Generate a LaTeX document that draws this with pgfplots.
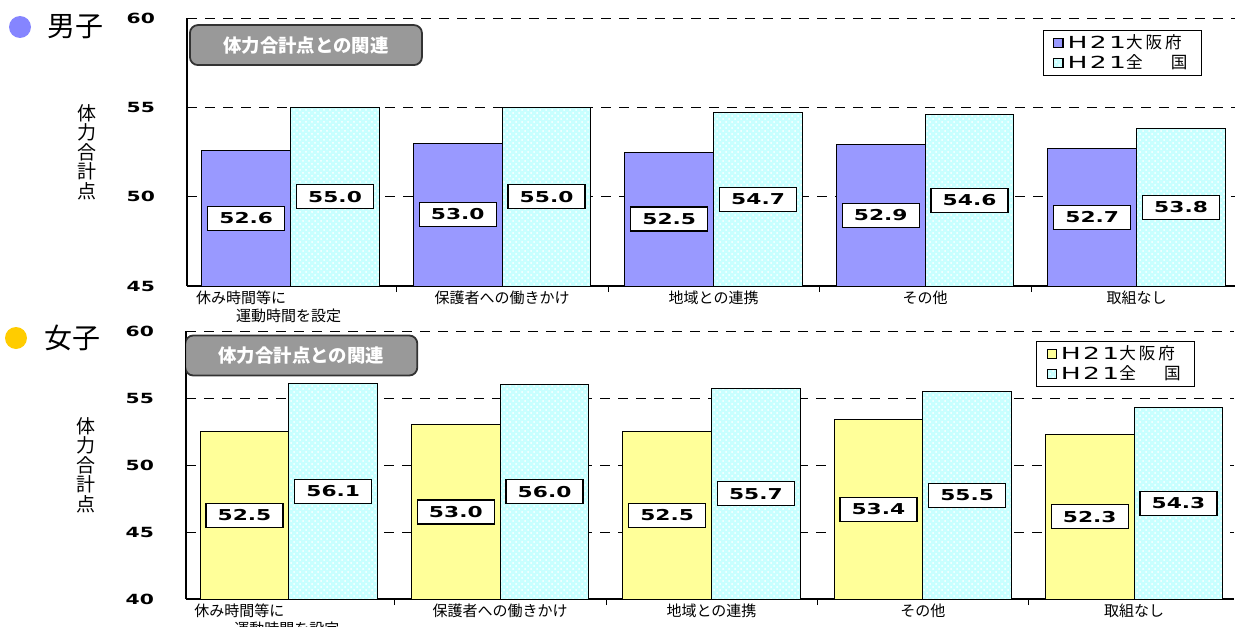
\documentclass[border=0pt]{standalone}
\usepackage{pgfplots}
\pgfplotsset{compat=1.18}
\usepackage{fontspec}
\setmainfont{Noto Sans CJK JP}
\newfontfamily\numfont[FakeStretch=1.45]{DejaVu Sans}
\newfontfamily\legfont[LetterSpace=18]{Noto Sans CJK JP}
\newfontfamily\legnum[FakeStretch=1.6,LetterSpace=14]{DejaVu Sans}
\usetikzlibrary{patterns}

\definecolor{osakaM}{HTML}{9999FF}
\definecolor{osakaF}{HTML}{FFFF99}
\definecolor{zenkoku}{HTML}{C8FFFF}
\definecolor{dotM}{HTML}{8585FF}
\definecolor{dotF}{HTML}{FFCC00}
\definecolor{boxgray}{HTML}{999999}

\tikzset{titlebox/.style={draw=black!80, line width=0.9pt, fill=boxgray, rounded corners=4pt,
  minimum width=116pt, minimum height=20pt, text=white, font=\bfseries\fontsize{9.2}{11}\selectfont}}

% #1 = ymin, #2 = half of pt per unit
\pgfplotsset{
  panel/.style 2 args={
    scale only axis, width=524pt, height=134pt,
    xmin=-0.49, xmax=4.465, ymin=#1, ymax=60,
    axis x line*=bottom, axis y line*=left,
    axis line style={-, line width=0.7pt},
    xtick={0,...,4},
    xticklabels={{\begin{tabular}{@{}l@{}}休み時間等に\\\hspace*{20pt}運動時間を設定\end{tabular}\hspace*{22pt}},
      保護者への働きかけ, 地域との連携, その他, 取組なし},
    xticklabel style={font=\fontsize{7.5}{8.5}\selectfont, yshift=1pt},
    minor xtick={0.5,1.5,2.5,3.5}, minor tick length=3pt, major tick length=0pt,
    tick align=inside, tick style={black},
    ymajorgrids, major grid style={dash pattern=on 5pt off 4pt, line width=0.5pt, black},
    /pgf/number format/assume math mode=true,
    yticklabel style={font=\numfont\bfseries\fontsize{7}{8}\selectfont, xshift=-12.5pt},
    ylabel={体\\力\\合\\計\\点},
    ylabel style={at={(axis description cs:-0.095,0.5)}, anchor=center, rotate=-90,
      align=center, font=\fontsize{9.5}{7.6}\selectfont},
    ybar, bar width=0.42,
    visualization depends on={y \as \rawy},
    nodes near coords={\pgfmathprintnumber[fixed,fixed zerofill,precision=1]{\rawy}},
    every node near coord/.append style={draw=black, fill=white, line width=0.6pt,
      minimum width=38.5pt, minimum height=12pt, inner sep=1pt, anchor=center,
      font=\numfont\bfseries\fontsize{7.5}{9}\selectfont, text=black,
      yshift={-(\rawy-#1)*#2}},
    legend image code/.code={\draw[##1, line width=0.6pt] (0pt,-2.3pt) rectangle (4.6pt,2.3pt);},
    legend style={draw=black, line width=0.5pt, font=\legfont\fontsize{8.3}{9}\selectfont,
      inner xsep=5pt, inner ysep=0pt, row sep=-2.5pt},
    legend cell align=left,
  }
}

\pgfplotstableread{
x osaka zenkoku
0 52.6 55.0
1 53.0 55.0
2 52.5 54.7
3 52.9 54.6
4 52.7 53.8
}\boys

\pgfplotstableread{
x osaka zenkoku
0 52.5 56.1
1 53.0 56.0
2 52.5 55.7
3 53.4 55.5
4 52.3 54.3
}\girls

\begin{document}
\begin{tikzpicture}
\path[use as bounding box] (0,0) rectangle (617.5pt,-313pt);

% 男子
\fill[dotM] (10pt,-13.5pt) circle (5.5pt);
\node[font=\fontsize{14}{16}\selectfont] at (37.75pt,-13.5pt) {男子};
\begin{axis}[panel={45}{4.4667}, at={(93.5pt,-143pt)}, anchor=south west,
  ytick={45,50,55,60},
  legend style={at={(0.9685,0.955)}, anchor=north east}]
  \addplot[fill=osakaM, draw=black, line width=0.5pt, bar shift=-0.21] table[x=x, y=osaka] {\boys};
  \addplot[fill=zenkoku, draw=black, line width=0.5pt, bar shift=0.21,
    postaction={pattern=crosshatch dots, pattern color=white}] table[x=x, y=zenkoku] {\boys};
  \legend{{\legnum H21}大阪府, {\legnum H21}全\hspace{1.7em}国}
  \node[titlebox] at (rel axis cs:0.1135,0.899) {体力合計点との関連};
\end{axis}

% 女子
\fill[dotF] (8pt,-169pt) circle (5.5pt);
\node[font=\fontsize{14}{16}\selectfont] at (36pt,-169pt) {女子};
\begin{axis}[panel={40}{3.35}, at={(93pt,-299.5pt)}, anchor=south west,
  ytick={40,45,50,55,60}, xmin=-0.487, xmax=4.473,
  legend style={at={(0.963,0.963)}, anchor=north east}]
  \addplot[fill=osakaF, draw=black, line width=0.5pt, bar shift=-0.21] table[x=x, y=osaka] {\girls};
  \addplot[fill=zenkoku, draw=black, line width=0.5pt, bar shift=0.21,
    postaction={pattern=crosshatch dots, pattern color=white}] table[x=x, y=zenkoku] {\girls};
  \legend{{\legnum H21}大阪府, {\legnum H21}全\hspace{1.7em}国}
  \node[titlebox] at (rel axis cs:0.110,0.9086) {体力合計点との関連};
\end{axis}
\end{tikzpicture}
\end{document}
